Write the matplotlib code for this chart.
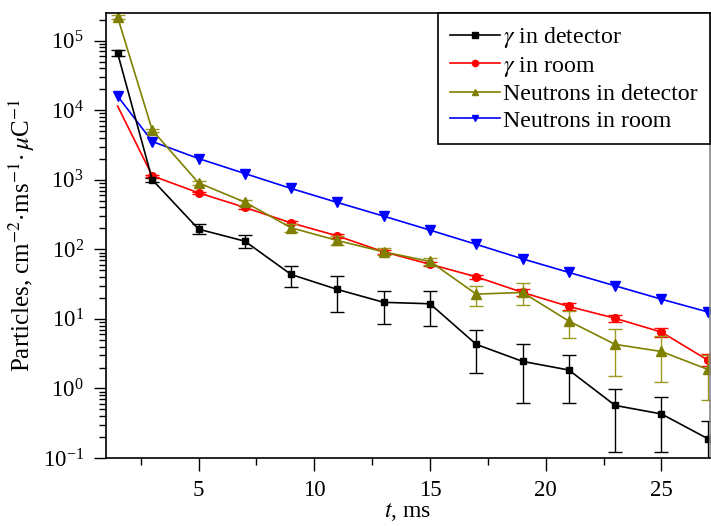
import matplotlib
matplotlib.use("Agg")
import matplotlib.pyplot as plt
from matplotlib.lines import Line2D
from matplotlib.ticker import NullFormatter, FixedLocator, LogFormatterMathtext

plt.rcParams['font.family'] = ['Liberation Serif', 'DejaVu Serif']
plt.rcParams['mathtext.fontset'] = 'stix'
plt.rcParams['font.size'] = 17

t = [1.5, 3, 5, 7, 9, 11, 13, 15, 17, 19, 21, 23, 25, 27]

gd = [6.65e4, 1000, 195, 131, 43.5, 26.5, 17.3, 16.5, 4.3, 2.45, 1.84, 0.57, 0.43, 0.19]
gd_lo = [6.0e4, 930, 165, 105, 28.4, 12.6, 8.4, 7.9, 1.68, 0.61, 0.61, 0.122, 0.123, 0.05]
gd_hi = [7.3e4, 1070, 228, 160, 58, 40.8, 25.3, 25.3, 6.9, 4.35, 3.05, 0.97, 0.745, 0.34]

gr = [1.15e4, 1140, 649, 400, 240, 156, 92, 61, 40.3, 24, 15.1, 10.2, 6.46, 2.56]
gr_lo = [1.15e4, 1090, 625, 380, 228, 147, 86, 57, 37.5, 21.5, 13.3, 8.9, 5.5, 2.1]
gr_hi = [1.15e4, 1190, 673, 420, 253, 165, 98, 65, 43, 26.5, 17, 11.5, 7.5, 3.1]

nd = [2.19e5, 5160, 902, 477, 204, 134, 92, 67, 22.7, 24, 9.3, 4.3, 3.4, 1.88]
nd_lo = [2.05e5, 4900, 850, 440, 180, 115, 82, 60, 15.1, 15.8, 5.4, 1.5, 1.25, 0.68]
nd_hi = [2.33e5, 5420, 955, 515, 228, 153, 103, 74, 30.2, 32.4, 13, 7.1, 5.7, 3.0]

nr = [1.6e4, 3550, 2020, 1230, 750, 472, 300, 189, 118, 73, 46.6, 29.9, 19.2, 12.6]

labels = [r'$\gamma$ in detector', r'$\gamma$ in room', 'Neutrons in detector', 'Neutrons in room']
colors = ['black', 'red', '#808000', 'blue']
markers = ['s', 'o', '^', 'v']
msizes = [5, 5.5, 6.5, 6.5]

fig = plt.figure(figsize=(7.11, 5.26), dpi=100)
ax = fig.add_axes([106/711, 1 - 458/526, (710 - 106)/711, (458 - 13)/526])

def yerr(v, lo, hi):
    return [[a - b for a, b in zip(v, lo)], [b - a for a, b in zip(v, hi)]]

ax.errorbar(t, gd, yerr=yerr(gd, gd_lo, gd_hi), color=colors[0], marker=markers[0], ms=msizes[0],
            lw=1.2, elinewidth=1.0, capsize=5, capthick=1.0)
# gamma in room: first point has no marker and no error bar
ax.plot(t, gr, color=colors[1], marker=markers[1], ms=msizes[1], lw=1.2, markevery=slice(1, None))
ax.errorbar(t[1:], gr[1:], yerr=yerr(gr[1:], gr_lo[1:], gr_hi[1:]), fmt='none', ecolor=colors[1],
            elinewidth=1.0, capsize=5, capthick=1.0)
ax.errorbar(t, nd, yerr=yerr(nd, nd_lo, nd_hi), color=colors[2], ecolor='#9a9a20', marker=markers[2],
            ms=msizes[2], lw=1.2, elinewidth=1.0, capsize=5, capthick=1.0)
ax.plot(t, nr, color=colors[3], marker=markers[3], ms=msizes[3], lw=1.2)

ax.set_yscale('log')
ymin, ymax = 0.1, 2.5e5
ax.set_ylim(ymin, ymax)
ax.set_xlim(1.0, 27.1)

ax.xaxis.set_major_locator(FixedLocator([5, 10, 15, 20, 25]))
ax.xaxis.set_minor_locator(FixedLocator([2.5, 7.5, 12.5, 17.5, 22.5]))
major_y = [10.0 ** k for k in range(-1, 6)]
minor_y = [m * 10.0 ** k for k in range(-1, 6) for m in range(2, 10) if m * 10.0 ** k <= ymax]
ax.yaxis.set_major_locator(FixedLocator(major_y))
ax.yaxis.set_major_formatter(LogFormatterMathtext())
ax.yaxis.set_minor_locator(FixedLocator(minor_y))
ax.yaxis.set_minor_formatter(NullFormatter())

ax.tick_params(which='major', direction='out', length=9, width=1.0, labelsize=16.5, pad=7)
ax.tick_params(which='minor', direction='out', length=5, width=1.0)
ax.tick_params(top=False, right=False)
for s in ax.spines.values():
    s.set_linewidth(1.2)
ax.spines['right'].set_color('#888888')

ax.set_xlabel(r'$t$, ms', fontsize=17, labelpad=0)
ax.set_ylabel(r'Particles, cm$^{-2}\!\cdot\!$ms$^{-1}\!\cdot\mu$C$^{-1}$', fontsize=18, labelpad=4)

handles = [Line2D([], [], color=c, marker=m, ms=4.5, lw=1.2) for c, m in zip(colors, markers)]
leg = ax.legend(handles, labels, loc='upper right', borderaxespad=0, fancybox=False, framealpha=1,
                edgecolor='black', fontsize=17.2, handlelength=2.1, handletextpad=0.15,
                labelspacing=0.2, borderpad=0.5)
leg.get_frame().set_linewidth(1.2)

fig.savefig('out.png', dpi=100)
